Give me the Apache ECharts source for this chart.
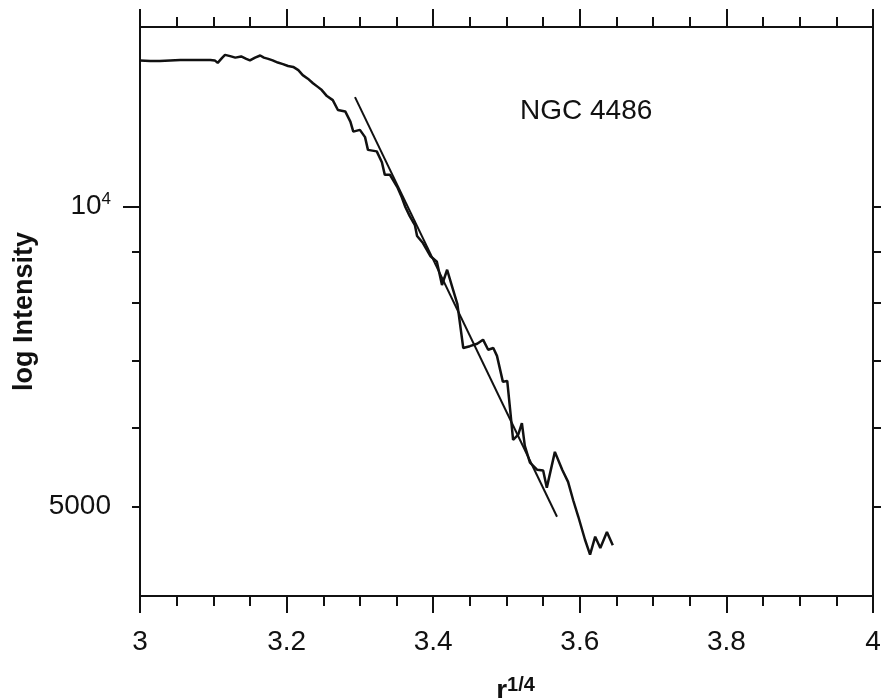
<!DOCTYPE html>
<html><head><meta charset="utf-8">
<script src="https://cdn.jsdelivr.net/npm/echarts@6/dist/echarts.min.js"></script>
<style>html,body{margin:0;padding:0;background:#fff}#c{width:883px;height:698px}</style>
</head><body><div id="c"></div>
<script>
// r^(1/4) values of the measured profile
const rQuarter = [3.000, 3.014, 3.027, 3.041, 3.055, 3.068, 3.082, 3.096, 3.102, 3.106,
  3.112, 3.116, 3.123, 3.130, 3.138, 3.145, 3.150, 3.157, 3.164, 3.169,
  3.175, 3.181, 3.188, 3.195, 3.202, 3.209, 3.216, 3.222, 3.229, 3.236,
  3.243, 3.248, 3.255, 3.263, 3.270, 3.280, 3.287, 3.291, 3.300, 3.307,
  3.311, 3.317, 3.323, 3.330, 3.334, 3.341, 3.351, 3.357, 3.362, 3.368,
  3.375, 3.378, 3.386, 3.396, 3.405, 3.412, 3.419, 3.426, 3.433, 3.441,
  3.450, 3.460, 3.468, 3.475, 3.482, 3.487, 3.495, 3.501, 3.505, 3.509,
  3.516, 3.521, 3.525, 3.532, 3.542, 3.550, 3.555, 3.566, 3.576, 3.584,
  3.591, 3.598, 3.607, 3.614, 3.621, 3.628, 3.637, 3.645];
// measured intensity
const intensity = [14020, 14000, 14000, 14020, 14030, 14030, 14030, 14030, 14020, 13940,
  14100, 14200, 14160, 14110, 14150, 14070, 14020, 14110, 14180, 14110,
  14070, 14020, 13950, 13900, 13840, 13810, 13710, 13550, 13440, 13300,
  13180, 13090, 12910, 12790, 12500, 12460, 12170, 11890, 11940, 11740,
  11400, 11380, 11360, 11080, 10760, 10760, 10460, 10220, 9990, 9780,
  9580, 9340, 9190, 8920, 8800, 8340, 8640, 8300, 7980, 7210,
  7240, 7280, 7350, 7180, 7210, 7080, 6670, 6680, 6250, 5830,
  5900, 6060, 5750, 5530, 5440, 5430, 5220, 5670, 5440, 5290,
  5070, 4880, 4630, 4470, 4660, 4540, 4710, 4570];
// de Vaucouleurs r^(1/4) fit line end points
const fitR = [3.2933, 3.5689];
const fitIntensity = [12880, 4880];
// axis ranges and ticks
const xRange = [3, 4];
const xStep = 0.2;
const yRange = [4063, 15146];
const yMajorTicks = [10000];
const yMinorTicks = [5000, 6000, 7000, 8000, 9000];
const yAllTicks = [5000, 6000, 7000, 8000, 9000, 10000];
const yLabelValues = [5000, 10000];
const label = 'NGC 4486';

const FONT = 'Liberation Sans';
const ink = '#111';
const chart = echarts.init(document.getElementById('c'), null, {renderer: 'canvas'});

function xAxisDef(position, showLabel, majorLen) {
  return {
    type: 'value', position: position, min: xRange[0], max: xRange[1], interval: xStep,
    axisLine: {show: true, onZero: false, lineStyle: {color: ink, width: 2}},
    axisTick: {show: true, inside: false, length: majorLen, lineStyle: {color: ink, width: 2}},
    minorTick: {show: true, splitNumber: 4, length: 10, lineStyle: {color: ink, width: 2}},
    splitLine: {show: false}, minorSplitLine: {show: false},
    axisLabel: {show: showLabel, margin: 32, fontSize: 28, color: ink, fontFamily: FONT,
      showMinLabel: true, showMaxLabel: true},
  };
}
const xBottom = xAxisDef('bottom', true, 17);
xBottom.name = '{r|r}{s|1/4}';
xBottom.nameLocation = 'middle';
xBottom.nameGap = 79;
xBottom.nameTextStyle = {
  padding: [0, 0, 0, 18],
  rich: {
    r: {fontSize: 28, fontWeight: 'bold', fontFamily: FONT, color: ink},
    s: {fontSize: 20, fontWeight: 'bold', fontFamily: FONT, color: ink, padding: [0, 0, 12, 0]}
  }
};
const xTop = xAxisDef('top', false, 18);

function yAxisDef(position, ticks, len, showLine) {
  return {
    type: 'log', logBase: 10, position: position, min: yRange[0], max: yRange[1],
    axisLine: {show: showLine, onZero: false, lineStyle: {color: ink, width: 2}},
    axisTick: {show: true, inside: false, length: len, customValues: ticks, lineStyle: {color: ink, width: 2}},
    minorTick: {show: false},
    splitLine: {show: false}, minorSplitLine: {show: false},
    axisLabel: {show: false}
  };
}
const yLeft = yAxisDef('left', yMajorTicks, 17, true);
yLeft.axisLabel = {
  show: true, margin: 29, customValues: yLabelValues, color: ink, fontFamily: FONT,
  formatter: function (v) {
    const raw = v < 100 ? Math.pow(10, v) : v;
    return Math.round(raw) >= 9999 ? '{b|10}{s|4}' : '{b|' + Math.round(raw) + '}';
  },
  rich: {
    b: {fontSize: 28, fontFamily: FONT, color: ink},
    s: {fontSize: 17, fontFamily: FONT, color: ink, padding: [0, 0, 14, 0]}
  }
};
yLeft.name = 'log Intensity';
yLeft.nameLocation = 'middle';
yLeft.nameGap = 96;
yLeft.nameTextStyle = {fontSize: 27, fontWeight: 'bold', fontFamily: FONT, color: ink};
const yRight = yAxisDef('right', yAllTicks, 8, true);
const yLeftMinor = yAxisDef('left', yMinorTicks, 8, false);

const option = {
  backgroundColor: '#fff',
  animation: false,
  grid: {left: 140, right: 10, top: 27, bottom: 102, outerBoundsMode: 'none', containLabel: false},
  xAxis: [xBottom, xTop],
  yAxis: [yLeft, yRight, yLeftMinor],
  graphic: [{
    type: 'text', left: 520, top: 97,
    style: {text: label, fontSize: 28, fontFamily: FONT, fill: ink}
  }],
  series: [{
    type: 'line', xAxisIndex: 0, yAxisIndex: 0, showSymbol: false,
    lineStyle: {color: ink, width: 2.5}, itemStyle: {color: ink},
    data: rQuarter.map((r, i) => [r, intensity[i]])
  }, {
    type: 'line', xAxisIndex: 0, yAxisIndex: 0, showSymbol: false,
    lineStyle: {color: ink, width: 2}, itemStyle: {color: ink},
    data: fitR.map((r, i) => [r, fitIntensity[i]])
  }]
};
chart.setOption(option);
</script></body></html>
